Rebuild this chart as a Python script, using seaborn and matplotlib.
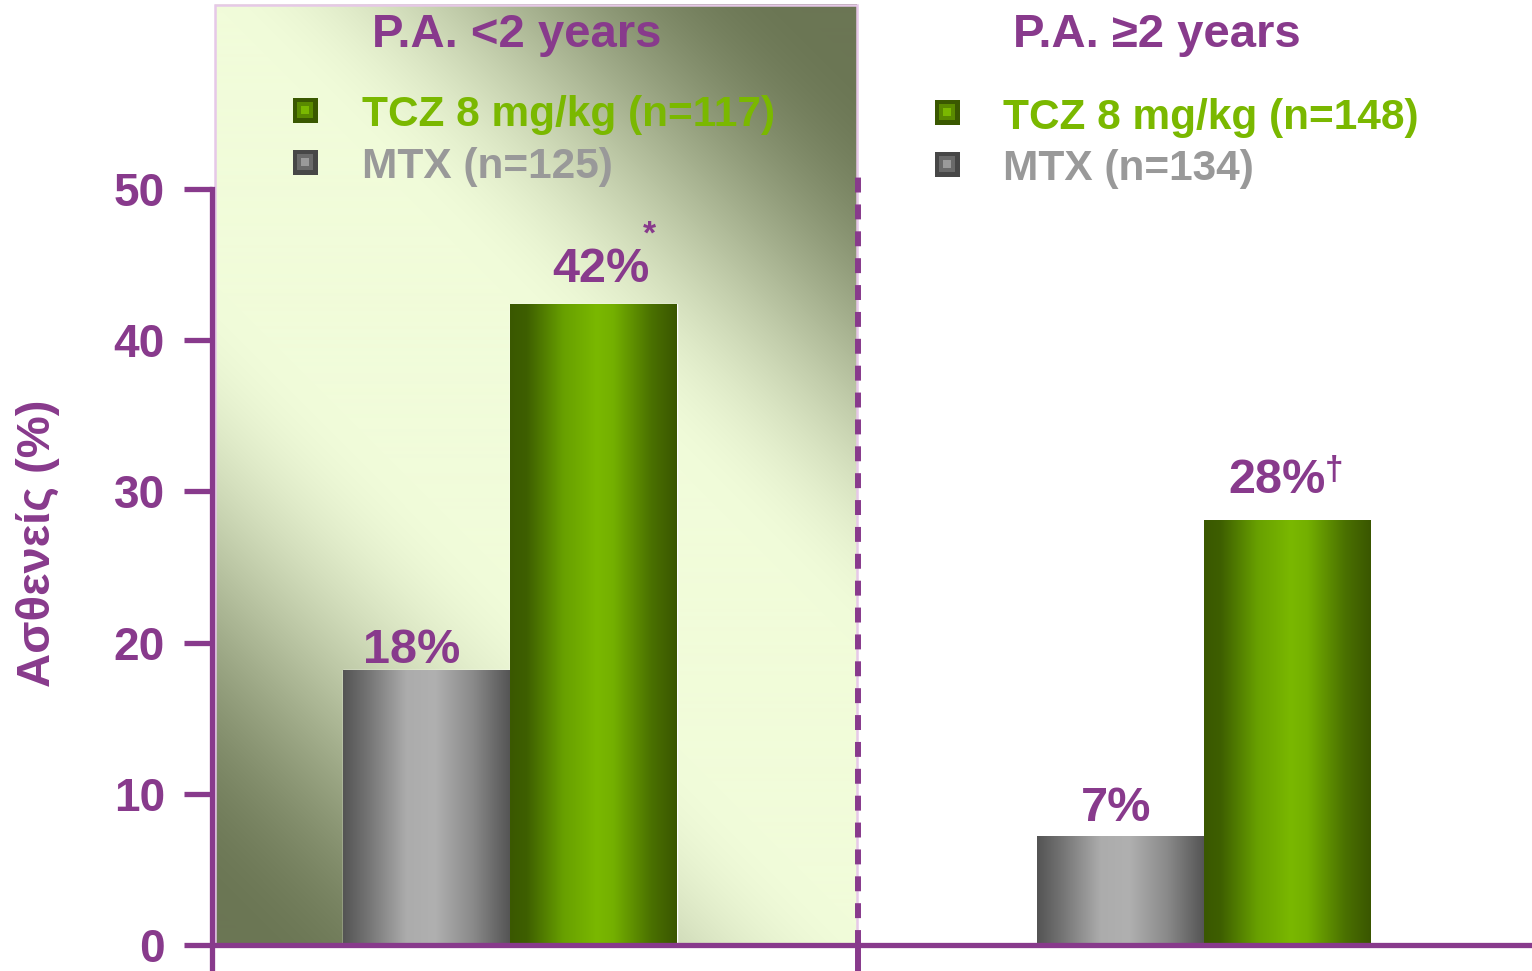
import numpy as np
import pandas as pd
import seaborn as sns
import matplotlib.pyplot as plt
from matplotlib.colors import LinearSegmentedColormap, to_rgb
from matplotlib.patches import Rectangle

# ----------------------------- DATA -----------------------------
groups = ["P.A. <2 years", "P.A. ≥2 years"]
treatments = ["MTX", "TCZ"]
mtx_pct = [18.2, 7.2]
tcz_pct = [42.4, 28.1]
mtx_labels = ["18%", "7%"]
tcz_labels = ["42%", "28%"]
tcz_marks = ["*", "†"]
n_tcz = [117, 148]
n_mtx = [125, 134]
yticks = [0, 10, 20, 30, 40, 50]
ylabel = "Ασθενείς (%)"

# ----------------------------- STYLE -----------------------------
PURPLE = "#883a8c"
GREEN_TXT = "#7ab800"
GRAY_TXT = "#999999"
W, H = 1532, 971

sns.set_style("white")
plt.rcParams["font.family"] = ["Liberation Sans", "DejaVu Sans"]
plt.rcParams["font.weight"] = "bold"

# pixel layout of the original slide
X0, PX_X = 510, 694      # pixel of first group centre, pixels per category
Y0, PX_Y = 945, 15.12    # pixel of y=0, pixels per percent


def px(x, y):
    return x / W, 1 - y / H


def smoothstep(a):
    a = np.clip(a, 0, 1)
    return a * a * (3 - 2 * a)


fig = plt.figure(figsize=(W / 100, H / 100), dpi=100)
ax = fig.add_axes([0, 0, 1, 1])
xlim = ((0 - X0) / PX_X, (W - X0) / PX_X)
ylim = ((Y0 - H) / PX_Y, Y0 / PX_Y)

# left panel background with diagonal gradient (light band top-left -> bottom-right)
bw, bh = 642, 940
d = np.arange(bw)[None, :] - np.arange(bh)[:, None]
t = smoothstep(d / 580) + smoothstep((-280 - d) / 620)
light = np.array(to_rgb("#f1fcda"))
dark = np.array(to_rgb("#6b7654"))
bg = light + t[..., None] * (dark - light)
bx0, bx1 = (215 - X0) / PX_X, (857 - X0) / PX_X
by1 = (Y0 - 5) / PX_Y
ax.imshow(bg, extent=[bx0, bx1, 0, by1], aspect="auto", zorder=0.5)
ax.add_patch(Rectangle((bx0, 0), bx1 - bx0, by1, fill=False,
                       edgecolor="#e6c8e8", lw=1.8, zorder=0.6))

# bars
df = pd.DataFrame({
    "group": groups * 2,
    "treatment": ["MTX"] * 2 + ["TCZ"] * 2,
    "pct": mtx_pct + tcz_pct,
})
palette = {"MTX": "#8a8a8a", "TCZ": "#5a8a00"}
sns.barplot(data=df, x="group", y="pct", hue="treatment", order=groups,
            hue_order=treatments, palette=palette, saturation=1,
            width=0.48, errorbar=None, legend=False, ax=ax, zorder=2)

gray_cmap = LinearSegmentedColormap.from_list("g", [
    (0, "#545454"), (0.15, "#747474"), (0.38, "#acacac"), (0.55, "#b0b0b0"),
    (0.78, "#8a8a8a"), (1, "#555555")])
green_cmap = LinearSegmentedColormap.from_list("t", [
    (0, "#3a5800"), (0.1, "#3e5f00"), (0.32, "#68a000"), (0.52, "#7ab800"),
    (0.62, "#74b000"), (0.85, "#4a7000"), (1, "#3a5600")])
ramp = np.linspace(0, 1, 256)[None, :]

bars = [p for p in ax.patches if isinstance(p, Rectangle) and p.get_zorder() == 2]
mtx_bars = sorted([b for b in bars if np.allclose(b.get_facecolor()[:3], to_rgb(palette["MTX"]))],
                  key=lambda b: b.get_x())
tcz_bars = sorted([b for b in bars if b not in mtx_bars], key=lambda b: b.get_x())
for bar in bars:
    x, w, h = bar.get_x(), bar.get_width(), bar.get_height()
    im = ax.imshow(ramp, cmap=gray_cmap if bar in mtx_bars else green_cmap,
                   extent=[x, x + w, 0, h], aspect="auto", zorder=2.1)
    im.set_clip_path(bar)

# value labels (offsets in pixels)
mtx_shift = [(-15, 7), (-5, 15)]
tcz_shift = [(8, 22), (-10, 27)]
mark_shift = [(56, 84), (47, 65)]
for i, b in enumerate(mtx_bars):
    cx = b.get_x() + b.get_width() / 2
    dx, dy = mtx_shift[i]
    ax.annotate(mtx_labels[i], (cx, mtx_pct[i]), xytext=(dx * 0.72, dy * 0.72),
                textcoords="offset points", ha="center", va="baseline",
                fontsize=35, color=PURPLE, zorder=4)
for i, b in enumerate(tcz_bars):
    cx = b.get_x() + b.get_width() / 2
    dx, dy = tcz_shift[i]
    ax.annotate(tcz_labels[i], (cx, tcz_pct[i]), xytext=(dx * 0.72, dy * 0.72),
                textcoords="offset points", ha="center", va="baseline",
                fontsize=35, color=PURPLE, zorder=4)
    mx, my = mark_shift[i]
    ax.annotate(tcz_marks[i], (cx, tcz_pct[i]), xytext=(mx * 0.72, my * 0.72),
                textcoords="offset points", ha="center", va="top",
                fontsize=24, color=PURPLE, zorder=4)

# panel titles and legends
title_pos = [(517, 47), (1157, 47)]
legend_marker_x = [305, 947]
legend_text_x = [362, 1003]
legend_rows = [(110, 126, 162, 178), (112, 129, 164, 180)]
for i, g in enumerate(groups):
    ax.text(*px(*title_pos[i]), g, transform=ax.transAxes, ha="center",
            va="baseline", fontsize=34, color=PURPLE)
    my_t, ty_t, my_m, ty_m = legend_rows[i]
    for my, cols in [(my_t, ["#3a5800", "#5a8a00", "#7ab800"]),
                     (my_m, ["#474747", "#6a6a6a", "#9a9a9a"])]:
        for ms, c in zip([18, 12, 5.5], cols):
            ax.plot(*px(legend_marker_x[i], my), marker="s", ms=ms, mew=0,
                    color=c, transform=ax.transAxes, zorder=4)
    ax.text(*px(legend_text_x[i], ty_t), f"TCZ 8 mg/kg (n={n_tcz[i]})",
            transform=ax.transAxes, ha="left", va="baseline", fontsize=30.5,
            color=GREEN_TXT)
    ax.text(*px(legend_text_x[i], ty_m), f"MTX (n={n_mtx[i]})",
            transform=ax.transAxes, ha="left", va="baseline", fontsize=30.5,
            color=GRAY_TXT)

# axes
ax.text(*px(38, 543), ylabel, transform=ax.transAxes, rotation=90,
        ha="center", va="center", fontsize=34, color=PURPLE)
for s in ["top", "right", "bottom"]:
    ax.spines[s].set_visible(False)
ax.spines["left"].set_position(("data", (212 - X0) / PX_X))
ax.spines["left"].set_bounds(ylim[0], 50)
ax.spines["left"].set_linewidth(3.8)
ax.spines["left"].set_color(PURPLE)
ax.set_yticks(yticks)
ax.tick_params(axis="y", left=True, length=20, width=3.8, color=PURPLE,
               labelcolor=PURPLE, labelsize=33, pad=14)
ax.set_xticks([])
ax.set_xlabel("")
ax.set_ylabel("")
ax.axhline(0, xmin=212 / W, xmax=1, color=PURPLE, lw=3.8, zorder=3)

# divider between the two panels
div_x = (858 - X0) / PX_X
ax.plot([div_x, div_x], [ylim[0], 0], color=PURPLE, lw=4.3, zorder=3,
        solid_capstyle="butt")
ax.plot([div_x, div_x], [0, 50.8], color=PURPLE, lw=4.3, ls=(0, (2.5, 2)),
        dash_capstyle="butt", zorder=3)

ax.set_xlim(xlim)
ax.set_ylim(ylim)
ax.patch.set_alpha(0)
fig.patch.set_facecolor("white")

plt.savefig("out.png", dpi=100)
